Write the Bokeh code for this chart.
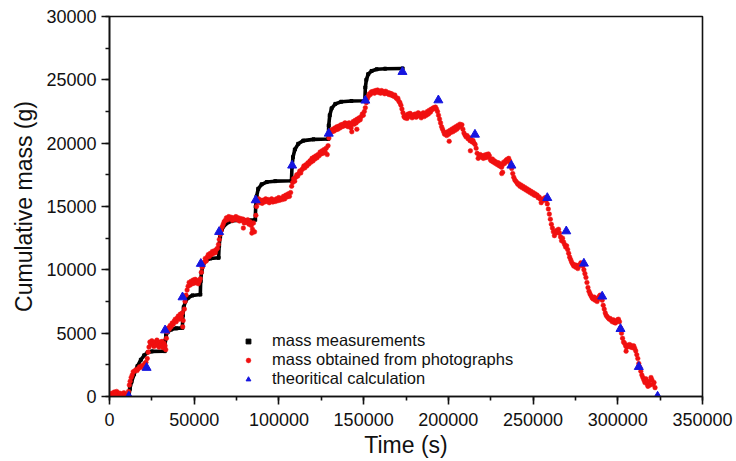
from bokeh.plotting import figure
from bokeh.models import (ColumnDataSource, Range1d, SingleIntervalTicker,
                          BasicTickFormatter, Legend, LegendItem)
from bokeh.embed import file_html
from bokeh.resources import INLINE

# All values below.
# Time in thousands of seconds (ks), mass in thousands of grams (kg).

# mass measurements (black stepped curve)
meas_points = [
    (11.4, 0), (12.0, 0.6), (13.0, 1.15), (14.5, 1.75), (16.5, 2.4), (18.5, 2.9),
    (20.5, 3.25), (22.5, 3.48), (25.0, 3.56), (32.6, 3.58),
    (32.9, 4.4), (33.4, 4.85), (34.4, 5.1), (36.4, 5.28), (39.4, 5.38), (43.0, 5.42),
    (43.3, 6.4), (43.8, 7.05), (44.8, 7.5), (46.5, 7.8), (49.0, 7.98), (53.6, 8.05),
    (53.8, 9.1), (54.3, 9.8), (55.3, 10.4), (57.1, 10.75), (59.6, 10.9), (64.4, 10.95),
    (64.7, 11.9), (65.3, 12.6), (66.4, 13.2), (68.4, 13.6), (71.9, 13.85), (77.9, 13.93), (86.0, 13.95),
    (86.3, 15.0), (86.8, 15.8), (87.8, 16.4), (89.8, 16.75), (92.8, 16.93), (97.8, 17.0), (107.4, 17.03),
    (107.7, 18.1), (108.3, 18.9), (109.4, 19.5), (111.4, 19.95), (114.4, 20.2), (120.4, 20.3), (129.1, 20.33),
    (129.4, 21.4), (130.0, 22.2), (131.1, 22.75), (133.3, 23.1), (136.8, 23.27), (142.8, 23.33), (150.7, 23.35),
    (151.0, 24.4), (151.6, 25.0), (152.7, 25.45), (154.7, 25.7), (157.7, 25.83), (162.7, 25.88), (173.0, 25.9),
]

# mass obtained from photographs (red dots)
photo_points = [
    (0.5, 0.1), (1.2, 0.25), (2.0, 0.15), (2.8, 0.35), (3.5, 0.2), (4.2, 0.4), (5.0, 0.3), (5.6, 0.1),
    (6.3, 0.25), (7.0, 0.05), (7.8, 0.15), (8.5, 0.3), (9.2, 0.1), (10.0, 0.05), (10.6, 0.15),
    (11.2, 0.4), (11.7, 0.9), (12.2, 1.2), (12.8, 1.5), (13.4, 1.7), (14.0, 1.95), (14.8, 2.0), (15.5, 2.1),
    (16.3, 2.05), (17.0, 2.2), (17.8, 2.35), (18.5, 2.3), (19.3, 2.45), (20.0, 2.4), (20.8, 2.6), (21.5, 2.7),
    (22.3, 3.0), (22.8, 3.5), (23.3, 3.9), (23.8, 4.3), (24.4, 4.1), (25.0, 4.4), (25.6, 4.2), (26.2, 3.95),
    (26.8, 4.3), (27.4, 4.05), (28.0, 4.45), (28.6, 4.2), (29.2, 3.9), (29.8, 4.3), (30.4, 4.1), (31.0, 4.35),
    (31.6, 3.85), (32.2, 4.2), (32.8, 4.0), (33.2, 3.7),
    (33.6, 4.6), (34.0, 5.1), (34.6, 5.4), (35.2, 5.3), (35.8, 5.6), (36.4, 5.5), (37.0, 5.8), (37.6, 5.7),
    (38.2, 5.95), (38.8, 6.1), (39.4, 5.9), (40.0, 6.2), (40.6, 6.35), (41.2, 6.1), (41.8, 6.5), (42.4, 6.3),
    (43.0, 6.6), (43.2, 5.5), (43.5, 6.0),
    (44.2, 6.9), (44.6, 7.5), (45.2, 8.0), (45.8, 8.4), (46.4, 8.7), (47.0, 9.0), (47.6, 8.8), (48.2, 9.1),
    (48.8, 8.9), (49.4, 9.2), (50.0, 8.95), (50.6, 9.25), (51.2, 9.0), (51.8, 9.15), (52.4, 8.9), (53.0, 9.1),
    (53.6, 9.3),
    (54.2, 9.8), (54.7, 10.2), (55.3, 10.5), (55.9, 10.6), (56.5, 10.9), (57.1, 10.7), (57.7, 11.0), (58.3, 11.2),
    (58.9, 11.05), (59.5, 11.3), (60.1, 11.2), (60.7, 11.45), (61.3, 11.3), (61.9, 11.5), (62.5, 11.35),
    (63.1, 11.6), (63.7, 11.7), (64.3, 12.0),
    (64.8, 12.4), (65.3, 12.8), (65.9, 13.1), (66.5, 13.4), (67.1, 13.6), (67.7, 13.8), (68.3, 13.9), (69.0, 14.1),
    (69.7, 13.95), (70.4, 14.2), (71.1, 14.05), (71.8, 14.15), (72.5, 13.9), (73.2, 14.1), (73.9, 14.0),
    (74.6, 14.2), (75.3, 13.95), (76.0, 14.1), (76.7, 13.85), (77.4, 14.05), (78.1, 13.9), (78.8, 14.0),
    (79.0, 13.3), (79.5, 13.7), (80.2, 13.9), (80.9, 13.75), (81.6, 13.95), (82.3, 13.6), (83.0, 13.8),
    (83.7, 13.5), (84.0, 12.9), (84.4, 13.2), (85.0, 13.7), (85.6, 13.0),
    (86.4, 14.3), (86.8, 15.0), (87.3, 15.4), (88.0, 15.6), (88.7, 15.3), (89.4, 15.5), (90.1, 15.25),
    (90.8, 15.5), (91.5, 15.35), (92.2, 15.6), (92.9, 15.4), (93.6, 15.55), (94.3, 15.3), (95.0, 15.45),
    (95.7, 15.6), (96.4, 15.35), (97.1, 15.5), (97.8, 15.4), (98.5, 15.6), (99.2, 15.45), (99.9, 15.7),
    (100.6, 15.5), (101.3, 15.65), (102.0, 15.55), (102.7, 15.8), (103.4, 15.6), (104.1, 15.9), (104.8, 15.75),
    (105.5, 16.0), (106.2, 15.8), (106.9, 16.1),
    (107.5, 16.6), (108.1, 16.9), (108.7, 17.2), (109.3, 17.0), (109.9, 17.3), (110.5, 17.5), (111.1, 17.4),
    (111.7, 17.6), (112.3, 17.8), (112.9, 17.65), (113.5, 17.9), (114.1, 18.0), (114.7, 18.2), (115.3, 18.05),
    (115.9, 18.3), (116.5, 18.2), (117.1, 18.45), (117.7, 18.35), (118.3, 18.6), (118.9, 18.5), (119.5, 18.8),
    (120.1, 18.6), (120.7, 18.9), (121.3, 18.75), (121.9, 19.0), (122.5, 18.85), (123.1, 19.1), (123.7, 19.0),
    (124.3, 19.3), (124.9, 19.15), (125.5, 19.4), (126.1, 19.2), (126.7, 19.5), (127.3, 19.3), (127.9, 19.6),
    (128.5, 19.1), (129.0, 19.8),
    (129.5, 20.4), (130.0, 20.8), (130.6, 21.0), (131.2, 20.9), (131.8, 21.1), (132.4, 20.95), (133.0, 21.2),
    (133.6, 21.05), (134.2, 21.3), (134.8, 21.1), (135.4, 21.35), (136.0, 21.2), (136.6, 21.45), (137.2, 21.3),
    (137.8, 21.5), (138.4, 21.35), (139.0, 21.6), (139.6, 21.4), (140.2, 21.55), (140.8, 21.3), (141.4, 21.6),
    (142.0, 21.45), (142.6, 21.2), (143.0, 20.9), (143.2, 21.5), (143.8, 21.7), (144.4, 21.5), (145.0, 21.8),
    (145.6, 21.6), (146.0, 21.1), (146.2, 21.9), (146.8, 21.75), (147.4, 22.0), (148.0, 21.85), (148.6, 22.1),
    (149.2, 22.3), (149.8, 22.2), (150.4, 22.5),
    (151.0, 22.8), (151.6, 23.2), (152.2, 23.5), (152.8, 23.7), (153.4, 23.9), (154.0, 23.85), (154.6, 24.05),
    (155.2, 24.0), (155.8, 24.1), (156.4, 23.95), (157.0, 24.15), (157.6, 24.05), (158.2, 24.2), (158.8, 24.0),
    (159.4, 24.1), (160.0, 23.95), (160.6, 24.15), (161.2, 24.0), (161.8, 24.05), (162.4, 23.9), (163.0, 24.1),
    (163.6, 23.95), (164.2, 24.0), (164.8, 23.85), (165.4, 23.95), (166.0, 23.8), (166.6, 23.9), (167.2, 23.75),
    (167.8, 23.7), (168.4, 23.8), (169.0, 23.6), (169.6, 23.5), (170.2, 23.55), (170.8, 23.3), (171.4, 23.2),
    (172.0, 23.0),
    (172.6, 22.7), (173.2, 22.4), (173.8, 22.1), (174.4, 22.0), (175.0, 22.2), (175.6, 21.95), (176.2, 22.3),
    (176.8, 22.1), (177.4, 22.35), (178.0, 22.2), (178.6, 22.0), (179.2, 22.25), (179.8, 22.1), (180.4, 22.3),
    (181.0, 22.05), (181.6, 22.2), (182.2, 22.4), (182.8, 22.15), (183.4, 22.3), (184.0, 22.0), (184.6, 22.2),
    (185.2, 22.4), (185.8, 22.1), (186.4, 22.35), (187.0, 22.2), (187.6, 22.5), (188.2, 22.3), (188.8, 22.6),
    (189.4, 22.45), (190.0, 22.7), (190.6, 22.65), (191.2, 22.8), (191.8, 22.75), (192.4, 22.85), (193.0, 22.7),
    (193.6, 22.5), (194.2, 22.2), (194.8, 21.9), (195.4, 21.6), (196.0, 21.3), (196.6, 21.1),
    (197.2, 20.9), (197.8, 20.7), (198.4, 20.8), (199.0, 20.6), (199.6, 20.9), (200.2, 20.7), (200.5, 20.15),
    (200.8, 21.0), (201.4, 20.85), (202.0, 21.1), (202.6, 20.9), (203.2, 21.2), (203.8, 21.0), (204.4, 21.3),
    (205.0, 21.1), (205.6, 21.4), (206.2, 21.25), (206.8, 21.5), (207.4, 21.35), (208.0, 21.45), (208.6, 21.1),
    (209.2, 20.8), (209.8, 20.65), (210.4, 20.5), (211.0, 20.6), (211.6, 20.35), (212.2, 20.45), (212.8, 20.2),
    (213.0, 19.4), (213.4, 20.3), (214.0, 20.1), (214.6, 20.2), (215.2, 20.0), (215.8, 19.9), (216.4, 19.6),
    (217.0, 19.2), (217.6, 18.8), (218.2, 19.0),
    (218.8, 19.1), (219.4, 18.9), (220.0, 19.0), (220.6, 18.8), (221.2, 19.05), (221.8, 18.85), (222.4, 19.1),
    (223.0, 18.9), (223.6, 19.15), (224.2, 19.0), (224.8, 18.7), (225.4, 18.6), (226.0, 18.75), (226.6, 18.5),
    (227.2, 18.6), (227.8, 18.4), (228.4, 18.5), (229.0, 18.3), (229.6, 18.45), (230.2, 18.2), (230.8, 18.35),
    (231.4, 18.1), (231.5, 17.6), (232.0, 17.7), (232.0, 18.3), (232.6, 18.5), (233.2, 18.4), (233.8, 18.6),
    (234.4, 18.7), (235.0, 18.55), (235.6, 18.8), (236.2, 18.6), (236.8, 18.3), (237.4, 18.0), (238.0, 17.6),
    (238.6, 17.3), (239.2, 17.1),
    (239.8, 17.0), (240.4, 16.9), (241.0, 16.75), (241.6, 16.8), (242.2, 16.6), (242.8, 16.7), (243.4, 16.5),
    (244.0, 16.6), (244.6, 16.4), (245.2, 16.5), (245.8, 16.3), (246.4, 16.4), (247.0, 16.2), (247.6, 16.3),
    (248.2, 16.1), (248.8, 16.2), (249.4, 16.0), (250.0, 16.1), (250.6, 15.9), (251.2, 16.0), (251.8, 15.85),
    (252.4, 15.9), (253.0, 15.7), (253.6, 15.75), (254.2, 15.6), (254.8, 15.3), (255.4, 15.5), (256.0, 15.6),
    (256.6, 15.5), (257.2, 15.7), (257.8, 15.5), (258.4, 15.2),
    (259.0, 14.8), (259.6, 14.4), (260.2, 14.0), (260.8, 13.6), (261.4, 13.3), (262.0, 13.0), (262.6, 12.7),
    (263.2, 12.9), (263.8, 13.1), (264.4, 12.95), (265.0, 13.2), (265.6, 12.9), (266.2, 12.6), (266.8, 12.3),
    (267.4, 12.5), (268.0, 12.2), (268.6, 12.0), (269.2, 11.8), (269.8, 11.9), (270.4, 11.6), (271.0, 11.3),
    (271.6, 11.0),
    (272.2, 10.8), (272.8, 10.6), (273.4, 10.45), (274.0, 10.3), (274.6, 10.4), (275.2, 10.2), (275.8, 10.35),
    (276.4, 10.1), (277.0, 10.3), (277.6, 10.4), (278.2, 10.55), (278.8, 10.5), (279.4, 10.3), (280.0, 10.0),
    (280.6, 9.7), (281.2, 9.4), (281.8, 9.0), (282.4, 8.6),
    (283.0, 8.3), (283.6, 8.1), (284.2, 7.95), (284.8, 7.8), (285.4, 7.7), (286.0, 7.85), (286.6, 7.6),
    (287.2, 7.75), (287.8, 7.5), (288.4, 7.7), (289.0, 7.9), (289.6, 8.0), (290.2, 7.85), (290.8, 7.6),
    (291.4, 7.2), (292.0, 6.9), (292.6, 6.6), (293.2, 6.4), (293.8, 6.3), (294.4, 6.2), (295.0, 6.1),
    (295.6, 6.15), (296.2, 6.0), (296.8, 5.9), (297.4, 6.05), (298.0, 5.85), (298.6, 5.8), (299.2, 5.9),
    (299.8, 6.05), (300.4, 6.1), (301.0, 5.9),
    (301.6, 5.4), (302.2, 5.0), (302.8, 4.6), (303.4, 4.3), (304.0, 4.2), (304.6, 4.0), (304.9, 3.58),
    (305.2, 3.9), (305.8, 4.05), (306.4, 3.95), (307.0, 4.1), (307.6, 3.9), (308.2, 4.0), (308.8, 3.85),
    (309.4, 4.0), (310.0, 3.8), (310.6, 3.6), (311.2, 3.3), (311.8, 3.0), (312.4, 2.6), (313.0, 2.3),
    (313.6, 2.0), (314.2, 1.7), (314.8, 1.5), (315.4, 1.3), (316.0, 1.1), (316.6, 1.4), (317.2, 1.0),
    (317.8, 0.8), (318.4, 1.2), (319.0, 0.9), (319.6, 1.5), (320.2, 1.3), (320.8, 0.95), (321.4, 1.1),
    (322.0, 0.7),
]

# theoritical calculation (blue triangles)
theo_time_ks = [11.4, 21.9, 32.8, 43.1, 53.9, 64.7, 86.3, 107.8, 129.4, 151.0, 172.9,
                194.1, 215.7, 237.2, 258.4, 269.6, 280.0, 290.8, 301.6, 312.4, 323.5]
theo_mass_kg = [0, 2.27, 5.23, 7.84, 10.48, 13.0, 15.5, 18.24, 20.76, 23.37, 25.63,
                23.39, 20.68, 18.24, 15.68, 13.05, 10.5, 7.9, 5.34, 2.34, 0]

legend_labels = ["mass measurements", "mass obtained from photographs", "theoritical calculation"]
x_title = "Time (s)"
y_title = "Cumulative mass (g)"

# unit conversion: ks -> s, kg -> g
meas_src = ColumnDataSource(dict(t=[a * 1000 for a, b in meas_points],
                                 m=[b * 1000 for a, b in meas_points]))
photo_src = ColumnDataSource(dict(t=[a * 1000 for a, b in photo_points],
                                  m=[b * 1000 for a, b in photo_points]))
theo_src = ColumnDataSource(dict(t=[a * 1000 for a in theo_time_ks],
                                 m=[b * 1000 for b in theo_mass_kg]))

FONT = "Liberation Sans"

p = figure(width=733, height=460, output_backend="svg", toolbar_location=None,
           x_range=Range1d(0, 350000), y_range=Range1d(0, 30000),
           min_border_left=109, min_border_right=31, min_border_top=16, min_border_bottom=64)
p.grid.visible = False
p.outline_line_color = "#111111"
p.outline_line_width = 1.6
p.background_fill_color = "white"
p.border_fill_color = "white"

p.xaxis.ticker = SingleIntervalTicker(interval=50000, num_minor_ticks=2)
p.yaxis.ticker = SingleIntervalTicker(interval=5000, num_minor_ticks=2)
for ax in (p.xaxis[0], p.yaxis[0]):
    ax.formatter = BasicTickFormatter(use_scientific=False)
    ax.axis_line_color = "#111111"
    ax.axis_line_width = 1.6
    ax.major_tick_line_color = "#111111"
    ax.major_tick_line_width = 1.6
    ax.minor_tick_line_color = "#111111"
    ax.minor_tick_line_width = 1.6
    ax.major_tick_in = 0
    ax.major_tick_out = 8
    ax.minor_tick_in = 0
    ax.minor_tick_out = 4
    ax.major_label_text_font = FONT
    ax.major_label_text_font_size = "18px"
    ax.major_label_text_color = "#111111"
    ax.axis_label_text_font = FONT
    ax.axis_label_text_font_size = "23px"
    ax.axis_label_text_font_style = "normal"
    ax.axis_label_text_color = "#111111"
p.xaxis.axis_label = x_title
p.yaxis.axis_label = y_title
p.xaxis.major_label_standoff = 8
p.xaxis.axis_label_standoff = 3
p.yaxis.major_label_standoff = 5
p.yaxis.axis_label_standoff = 6

meas_line = p.line("t", "m", source=meas_src, line_color="black", line_width=3.6)
meas_pts = p.scatter("t", "m", source=meas_src, marker="square", size=3,
                     fill_color="black", line_color="black")
photo_r = p.scatter("t", "m", source=photo_src, marker="circle", size=4.6,
                    fill_color="#f01010", line_color="#f01010", line_width=0.5)
theo_r = p.scatter("t", "m", source=theo_src, marker="triangle", size=9,
                   fill_color="#1515e0", line_color="#1515e0")

# one legend per entry so that the rows sit as tightly as in the reference
for label, rend, vy in zip(legend_labels, [meas_pts, photo_r, theo_r], [46, 27, 8]):
    lg = Legend(items=[LegendItem(label=label, renderers=[rend])],
                location=(133, vy), padding=0, margin=0,
                glyph_width=12, glyph_height=12, label_standoff=18,
                label_text_font=FONT, label_text_font_size="16.5px",
                label_text_color="#111111",
                border_line_color=None, background_fill_alpha=0)
    p.add_layout(lg)

open("out.html", "w").write(file_html(p, INLINE))
